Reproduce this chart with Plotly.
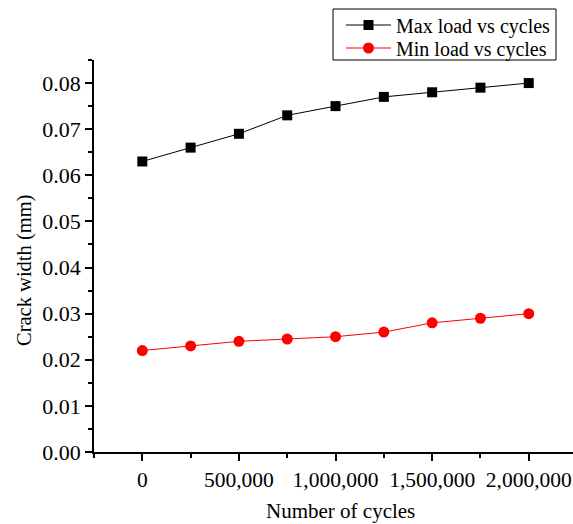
import plotly.graph_objects as go

cycles = [0, 250000, 500000, 750000, 1000000, 1250000, 1500000, 1750000, 2000000]
max_load = [0.063, 0.066, 0.069, 0.073, 0.075, 0.077, 0.078, 0.079, 0.080]
min_load = [0.022, 0.023, 0.024, 0.0245, 0.025, 0.026, 0.028, 0.029, 0.030]
x_ticks = [0, 500000, 1000000, 1500000, 2000000]
x_tick_labels = ["0", "500,000", "1,000,000", "1,500,000", "2,000,000"]
y_ticks = [0.00, 0.01, 0.02, 0.03, 0.04, 0.05, 0.06, 0.07, 0.08]

font = "Liberation Serif, Times New Roman, serif"
L, R, T, B, W, H = 94, 0, 60, 72, 573, 524
PW, PH = W - L - R, H - T - B


def px(xp):
    return (xp - L) / PW


def py(yp):
    return (H - B - yp) / PH


fig = go.Figure()
fig.add_trace(go.Scatter(x=cycles, y=max_load, mode="lines+markers", name="Max load vs cycles",
                         line=dict(color="black", width=1),
                         marker=dict(symbol="square", size=10, color="black"), legend="legend"))
fig.add_trace(go.Scatter(x=cycles, y=min_load, mode="lines+markers", name="Min load vs cycles",
                         line=dict(color="red", width=1),
                         marker=dict(symbol="circle", size=11, color="red"), legend="legend2"))

leg_common = dict(xref="paper", yref="paper", xanchor="left", yanchor="middle",
                  borderwidth=0, bgcolor="rgba(0,0,0,0)",
                  font=dict(family=font, size=20, color="black"), itemwidth=45)

fig.update_layout(
    width=W, height=H,
    margin=dict(l=L, r=R, t=T, b=B),
    plot_bgcolor="white", paper_bgcolor="white",
    font=dict(family=font, color="black"),
    showlegend=True,
    legend=dict(x=px(341), y=py(25), **leg_common),
    legend2=dict(x=px(341), y=py(48), **leg_common),
    shapes=[dict(type="rect", xref="paper", yref="paper",
                 x0=px(333), x1=px(556), y0=py(60), y1=py(9),
                 line=dict(color="black", width=1), fillcolor="rgba(0,0,0,0)", layer="below")],
    annotations=[
        dict(text="Number of cycles", xref="paper", yref="paper",
             x=px(340), y=py(511), xanchor="center", yanchor="middle",
             showarrow=False, font=dict(family=font, size=21, color="black")),
        dict(text="Crack width (mm)", xref="paper", yref="paper", textangle=-90,
             x=px(24), y=py(271), xanchor="center", yanchor="middle",
             showarrow=False, font=dict(family=font, size=20.5, color="black")),
    ],
)
fig.update_xaxes(
    range=[-250000, 2229000],
    tickmode="array", tickvals=x_ticks, ticktext=x_tick_labels,
    ticks="outside", ticklen=7, tickwidth=1.5, tickcolor="black",
    minor=dict(ticks="outside", ticklen=4, dtick=250000, tick0=0, tickcolor="black", tickwidth=1.5),
    showline=True, linecolor="black", linewidth=1.5,
    showgrid=False, zeroline=False, ticklabeloverflow="allow",
    tickfont=dict(family=font, size=21.5, color="black"),
)
fig.update_yaxes(
    range=[0, 0.085],
    tickmode="array", tickvals=y_ticks, tickformat=".2f",
    ticks="outside", ticklen=7, tickwidth=1.5, tickcolor="black",
    minor=dict(ticks="outside", ticklen=4, dtick=0.005, tick0=0, tickcolor="black", tickwidth=1.5),
    showline=True, linecolor="black", linewidth=1.5,
    showgrid=False, zeroline=False,
    tickfont=dict(family=font, size=22, color="black"),
)

fig.write_html("out.html")
